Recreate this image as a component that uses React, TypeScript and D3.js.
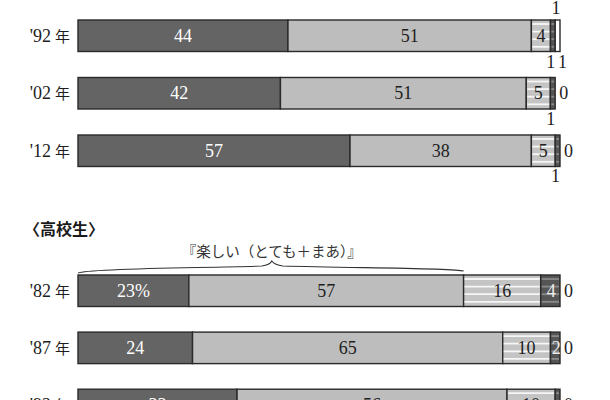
import React from 'react';
import * as d3 from 'd3';

// 回答カテゴリ（とても楽しい / まあ楽しい / あまり楽しくない / 全然楽しくない / 無回答）
const categories = ['とても楽しい', 'まあ楽しい', 'あまり楽しくない', '全然楽しくない', '無回答'];

// 上段（切れている部分）
const upperYears = ["'92 年", "'02 年", "'12 年"];
const upperTotemo = [44, 42, 57];
const upperMaa = [51, 51, 38];
const upperAmari = [4, 5, 5];
const upperZenzen = [1, 1, 1];
const upperMukaitou = [1, 0, 0];

// 〈高校生〉
const hsYears = ["'82 年", "'87 年", "'92 年"];
const hsTotemo = [23, 24, 33];
const hsMaa = [57, 65, 56];
const hsAmari = [16, 10, 10];
const hsZenzen = [4, 2, 1];
const hsMukaitou = [0, 0, 0];

const fills = ['#646464', '#bdbdbd', '#c4c4c4', '#555555', '#ffffff'];
const stripeColors = [null, null, '#f6f6f6', '#8a8a8a', null];
const textColors = ['#ffffff', '#1e1e1e', '#1e1e1e', '#eeeeee', '#1e1e1e'];

const W = 610;
const H = 400;
const X0 = 78;
const X1 = 560;
const BAR_H = 31.5;
const serif = "'Liberation Serif', 'Times New Roman', 'DejaVu Serif', serif";
const cjk = "'Noto Sans CJK JP', sans-serif";

type Row = { year: string; values: number[] };

const makeRows = (years: string[], series: number[][]): Row[] =>
  years.map((year, i) => ({ year, values: series.map(s => s[i]) }));

const upperRows = makeRows(upperYears, [upperTotemo, upperMaa, upperAmari, upperZenzen, upperMukaitou]);
const hsRows = makeRows(hsYears, [hsTotemo, hsMaa, hsAmari, hsZenzen, hsMukaitou]);

const barScale = (values: number[]) => {
  const total = d3.sum(values);
  return d3.scaleLinear().domain([0, Math.max(100, total)]).range([X0, X1]);
};

const numStyle = { fontFamily: serif, fontSize: 18 };

const Bar = ({ row, y, first }: { row: Row; y: number; first?: boolean }) => {
  const x = barScale(row.values);
  const starts = d3.cumsum([0, ...row.values]);
  const end = x(starts[starts.length - 1]);
  const below: { x: number; t: string }[] = [];
  const parts: React.ReactNode[] = [];
  row.values.forEach((v, i) => {
    if (v === 0) return;
    const a = x(starts[i]);
    const b = x(starts[i + 1]);
    const lines = stripeColors[i]
      ? d3.range(4).map(k => (
          <line key={k} x1={a + 1} x2={b - 1} y1={y + 4 + k * 7.6} y2={y + 4 + k * 7.6}
            stroke={stripeColors[i] as string} strokeWidth={1.8} />
        ))
      : null;
    parts.push(
      <g key={i}>
        <rect x={a} y={y} width={b - a} height={BAR_H} fill={fills[i]} stroke="#2a2a2a" strokeWidth={1.4} />
        {lines}
      </g>
    );
    if (v >= 2) {
      parts.push(
        <text key={'t' + i} x={(a + b) / 2 + (i === 3 ? 1 : 0)} y={y + BAR_H / 2 + 6}
          textAnchor="middle" fill={textColors[i]} style={numStyle}>
          {first && i === 0 ? `${v}%` : v}
        </text>
      );
    } else {
      below.push({ x: (a + b) / 2 + (i === 4 ? 5 : -2), t: String(v) });
    }
  });
  return (
    <g>
      <text x={70} y={y + BAR_H / 2 + 6} textAnchor="end" fill="#1e1e1e" style={numStyle}>
        {row.year.split(' ')[0]}
        <tspan style={{ fontFamily: cjk, fontSize: 15 }} dx={4}>{row.year.split(' ')[1]}</tspan>
      </text>
      {parts}
      {row.values[4] === 0 && (
        <text x={end + 4} y={y + BAR_H / 2 + 6} fill="#1e1e1e" style={numStyle}>0</text>
      )}
      {below.map((d, k) => (
        <text key={k} x={d.x} y={y + BAR_H + 16} textAnchor="middle" fill="#1e1e1e" style={numStyle}>{d.t}</text>
      ))}
    </g>
  );
};

const App = () => {
  const upperY = d3.scaleBand<string>().domain(upperYears).range([20, 166.5]).paddingInner(0.452).paddingOuter(0);
  const hsY = d3.scaleBand<string>().domain(hsYears).range([275, 420.5]).paddingInner(0.452).paddingOuter(0);

  const x82 = barScale(hsRows[0].values);
  const bx0 = x82(0);
  const bx1 = x82(hsTotemo[0] + hsMaa[0]);
  const mid = (bx0 + bx1) / 2 + 1;
  const braceY = 268;
  const brace = `M${bx0},${braceY + 5} C${bx0 + 12},${braceY} ${mid - 70},${braceY} ${mid - 10},${braceY - 2}`
    + ` Q${mid - 2},${braceY - 3} ${mid},${braceY - 7} Q${mid + 3},${braceY - 3} ${mid + 11},${braceY - 2}`
    + ` C${mid + 80},${braceY} ${bx1 - 10},${braceY} ${bx1},${braceY + 3}`;

  return (
    <svg width={W} height={H} style={{ position: 'absolute', left: 0, top: 0, background: '#fff' }}>
      {/* 切れている上の行の値 */}
      <text x={556} y={14} textAnchor="middle" fill="#1e1e1e" style={numStyle}>1</text>

      {upperRows.map(r => <Bar key={r.year} row={r} y={upperY(r.year) as number} />)}

      <text x={24} y={235} fill="#1a1a1a" style={{ fontFamily: cjk, fontWeight: 'bold', fontSize: 16 }}>〈高校生〉</text>
      <text x={mid} y={257} textAnchor="middle" fill="#333" style={{ fontFamily: cjk, fontSize: 14.5 }}>
        『楽しい（とても＋まあ）』
      </text>
      <path d={brace} fill="none" stroke="#333" strokeWidth={1.1} />

      {hsRows.map((r, i) => <Bar key={r.year} row={r} y={hsY(r.year) as number} first={i === 0} />)}
    </svg>
  );
};

export default App;
